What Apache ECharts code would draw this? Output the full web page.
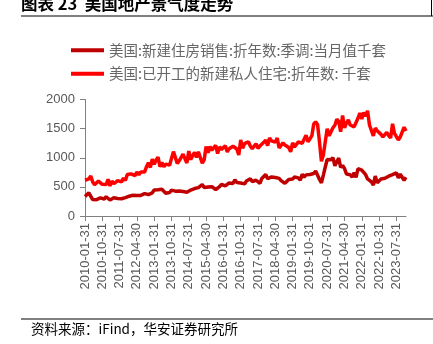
<!DOCTYPE html>
<html>
<head>
<meta charset="utf-8">
<script src="https://cdn.jsdelivr.net/npm/echarts@6/dist/echarts.min.js"></script>
<style>
html,body{margin:0;padding:0;background:#fff;}
#chart{width:433px;height:344px;}
</style>
</head>
<body>
<div id="chart"></div>
<script>
// Monthly US housing data, Jan 2010 – Dec 2023 (thousand units, SAAR)
const firstYear = 2010;
const lastYear = 2023;

const seriesNames = [
  '美国:新建住房销售:折年数:季调:当月值千套',
  '美国:已开工的新建私人住宅:折年数: 千套'
];

const yTicks = [0, 500, 1000, 1500, 2000];

const newHomeSales = [
  336,354,398,422,282,310,280,288,310,283,291,331,
  315,274,300,312,304,300,298,296,306,316,318,340,
  336,355,338,353,369,354,374,384,381,368,398,398,
  445,429,449,455,459,458,390,400,403,445,445,427,
  450,430,403,421,453,409,409,446,467,471,443,487,
  507,541,488,521,498,480,504,522,455,488,504,545,
  518,516,534,567,561,559,622,574,575,567,592,551,
  599,591,638,593,613,614,580,560,645,619,712,640,
  626,671,694,662,675,646,608,629,561,585,628,653,
  634,670,688,655,614,717,669,706,727,712,725,729,
  774,741,627,570,702,841,970,977,965,1002,862,932,
  993,834,869,817,720,701,708,667,742,662,811,839,
  788,775,709,636,642,585,532,685,569,582,636,640,
  648,623,683,683,710,683,739,654,719,666,615,664
];

const housingStarts = [
  614,604,636,687,583,536,546,599,594,543,545,539,
  630,517,600,554,561,608,623,585,650,610,711,694,
  723,704,695,753,708,757,740,754,847,915,833,976,
  888,962,1010,847,917,846,891,919,873,889,1105,1003,
  902,948,960,1063,984,910,1115,969,1036,1092,1005,1102,
  1094,906,964,1193,1084,1194,1130,1126,1214,1071,1187,1142,
  1116,1206,1100,1156,1123,1198,1204,1150,1046,1305,1164,1242,
  1262,1275,1201,1156,1142,1240,1161,1203,1170,1265,1302,1209,
  1340,1290,1322,1268,1337,1167,1165,1255,1220,1220,1175,1101,
  1257,1186,1165,1272,1276,1248,1215,1386,1274,1323,1375,1580,
  1617,1567,1269,938,1046,1273,1497,1376,1448,1514,1557,1661,
  1625,1447,1725,1514,1594,1650,1562,1573,1530,1563,1678,1768,
  1666,1777,1716,1805,1562,1575,1377,1508,1463,1432,1401,1357,
  1340,1436,1380,1340,1583,1418,1451,1305,1356,1359,1525,1460
];

// month-end date labels
const monthEnds = [];
for (let y = firstYear; y <= lastYear; y++) {
  for (let m = 1; m <= 12; m++) {
    const d = new Date(Date.UTC(y, m, 0)).getUTCDate();
    monthEnds.push(y + '-' + String(m).padStart(2, '0') + '-' + String(d).padStart(2, '0'));
  }
}

const grey = '#595959';
const cjk = '"Noto Sans CJK SC", sans-serif';
const latin = '"Liberation Sans", Arial, sans-serif';

const chart = echarts.init(document.getElementById('chart'));
chart.setOption({
  animation: false,
  backgroundColor: '#fff',
  graphic: [
    { type: 'text', left: 21, top: -5,
      style: { text: '图表 23  美国地产景气度走势', font: 'bold 16.5px ' + cjk, fill: '#000' } },
    { type: 'line', shape: { x1: 21, y1: 16, x2: 433, y2: 16 }, style: { stroke: '#000', lineWidth: 1 } },
    { type: 'line', shape: { x1: 431.5, y1: 0, x2: 431.5, y2: 16 }, style: { stroke: '#000', lineWidth: 1 } },
    { type: 'line', shape: { x1: 21, y1: 319, x2: 433, y2: 319 }, style: { stroke: '#000', lineWidth: 1 } },
    { type: 'text', left: 31, top: 322,
      style: { text: '资料来源：iFind，华安证券研究所', font: '13.5px ' + cjk, fill: '#000' } }
  ],
  legend: {
    orient: 'vertical',
    left: 66,
    top: 38,
    itemWidth: 33,
    itemHeight: 4,
    itemGap: 9,
    icon: 'rect',
    textStyle: { color: '#666', fontSize: 14.5, fontFamily: cjk },
    data: seriesNames
  },
  grid: { left: 85, right: 27, top: 99.5, bottom: 128, containLabel: false },
  xAxis: {
    type: 'category',
    boundaryGap: false,
    data: monthEnds,
    axisLine: { lineStyle: { color: '#808080' } },
    axisTick: { interval: 8, length: 5, lineStyle: { color: '#808080' } },
    axisLabel: {
      interval: 8,
      rotate: 90,
      color: grey,
      fontSize: 13,
      fontFamily: latin,
      margin: 7
    },
    splitLine: { show: false }
  },
  yAxis: {
    type: 'value',
    min: yTicks[0],
    max: yTicks[yTicks.length - 1],
    interval: yTicks[1] - yTicks[0],
    axisLine: { show: true, lineStyle: { color: '#808080' } },
    axisTick: { show: true, length: 5, lineStyle: { color: '#808080' } },
    axisLabel: { color: grey, fontSize: 13, fontFamily: latin, margin: 10,
      formatter: v => String(v) },
    splitLine: { show: false }
  },
  series: [
    { name: seriesNames[0], type: 'line', data: newHomeSales, showSymbol: false,
      itemStyle: { color: '#C00000' }, lineStyle: { color: '#C00000', width: 3.5 } },
    { name: seriesNames[1], type: 'line', data: housingStarts, showSymbol: false,
      itemStyle: { color: '#FF0000' }, lineStyle: { color: '#FF0000', width: 3.5 } }
  ]
});
</script>
</body>
</html>
